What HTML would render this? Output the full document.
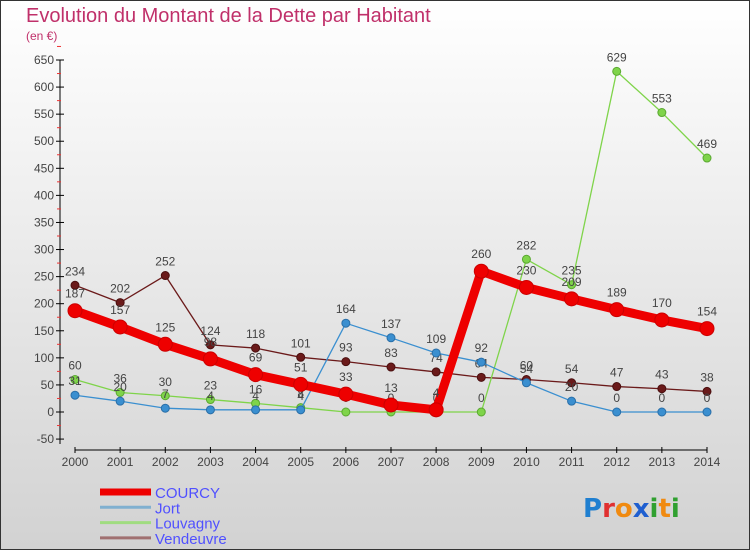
<!DOCTYPE html>
<html><head><meta charset="utf-8">
<style>
html,body{margin:0;padding:0;}
body{width:750px;height:550px;overflow:hidden;font-family:"Liberation Sans",sans-serif;}
</style></head>
<body>
<svg id="chart" width="750" height="550" viewBox="0 0 750 550" xmlns="http://www.w3.org/2000/svg" style="display:block">
<defs>
<linearGradient id="bg" x1="0" y1="0" x2="0" y2="1">
<stop offset="0" stop-color="#ffffff"/><stop offset="1" stop-color="#d2d2d2"/>
</linearGradient>
</defs>
<rect x="0.5" y="0.5" width="749" height="549" fill="url(#bg)" stroke="#333" stroke-width="1"/>
<text x="26" y="22" font-size="20" fill="#c0306a">Evolution du Montant de la Dette par Habitant</text>
<text x="26" y="40" font-size="12" fill="#c0306a">(en €)</text>
<g id="axes"></g>
<g id="series"></g>
<g id="legend"></g>
<g font-size="26" font-family="'DejaVu Sans', sans-serif" font-weight="bold">
<text x="583" y="517"><tspan fill="#1f7fd0">P</tspan><tspan fill="#e03030">r</tspan><tspan fill="#f08a10">o</tspan><tspan fill="#1f5fd0">x</tspan><tspan fill="#30a030">i</tspan><tspan fill="#f08a10">t</tspan><tspan fill="#30a030">i</tspan></text>
</g>
</svg>
<script>
const years = [2000,2001,2002,2003,2004,2005,2006,2007,2008,2009,2010,2011,2012,2013,2014];
const courcy = [187,157,125,98,69,51,33,13,4,260,230,209,189,170,154];
const jort = [31,20,7,4,4,4,164,137,109,92,54,20,0,0,0];
const louvagny = [60,36,30,23,16,8,0,0,0,0,282,235,629,553,469];
const vendeuvre = [234,202,252,124,118,101,93,83,74,64,60,54,47,43,38];
const yTicks = [-50,0,50,100,150,200,250,300,350,400,450,500,550,600,650];
const seriesNames = ["COURCY","Jort","Louvagny","Vendeuvre"];

const NS="http://www.w3.org/2000/svg";
function x(i){return 75+(707-75)*i/(years.length-1);}
function y(v){return 412-(v)*(352/650);}
function mk(tag,attrs,parent){const e=document.createElementNS(NS,tag);for(const k in attrs)e.setAttribute(k,attrs[k]);parent.appendChild(e);return e;}
const axes=document.getElementById('axes');
const ser=document.getElementById('series');
const leg=document.getElementById('legend');

// y axis
let yl=mk('line',{x1:60,y1:60,x2:60,y2:444,stroke:'#000','stroke-width':1},axes);


yTicks.forEach(t=>{
  const yy=y(t);
  mk('line',{x1:56,y1:yy,x2:64,y2:yy,stroke:'#000'},axes);
  mk('line',{x1:57,y1:y(t+25),x2:61,y2:y(t+25),stroke:'#e33'},axes);
  const tx=mk('text',{x:54,y:yy+4,'text-anchor':'end','font-size':12,fill:'#444'},axes);
  tx.textContent=t;
  
  
});
// x axis
let xl=mk('line',{x1:75,y1:450,x2:707,y2:450,stroke:'#000'},axes);


years.forEach((yr,i)=>{
  mk('line',{x1:x(i),y1:447,x2:x(i),y2:453,stroke:'#000'},axes);
  const tx=mk('text',{x:x(i),y:466,'text-anchor':'middle','font-size':12,fill:'#444'},axes);
  tx.textContent=yr;
  
  
});

function drawSeries(vals,name,color,width,r,stroke){
  const g=mk('g',{},ser);
  
  
  const pts=vals.map((v,i)=>x(i)+','+y(v)).join(' ');
  mk('polyline',{points:pts,fill:'none',stroke:color,'stroke-width':width,'stroke-linejoin':'round'},g);
  vals.forEach((v,i)=>{
    const c=mk('circle',{cx:x(i),cy:y(v),r:r,fill:color,stroke:stroke,'stroke-width':1},g);
    
    
    const t=mk('text',{x:x(i),y:y(v)-(r+6),'text-anchor':'middle','font-size':12,fill:'#444'},g);
    t.textContent=v;
    
    
  });
}
drawSeries(vendeuvre,'Vendeuvre','#6b1a1a',1.3,4,'#4a0f0f');
drawSeries(louvagny,'Louvagny','#7fd44a',1.3,4,'#5aa830');
drawSeries(jort,'Jort','#3a8fd0',1.3,4,'#2a6fa8');
drawSeries(courcy,'COURCY','#ee0000',9,7,'#cc0000');

const legColors=['#ee0000','#80b0d0','#a0dc80','#a07070'];
const legW=[7,3,3,3];
seriesNames.forEach((n,i)=>{
  const yy=492+i*15.3;
  const l=mk('line',{x1:100,y1:yy,x2:151,y2:yy,stroke:legColors[i],'stroke-width':legW[i]},leg);
  
  
  const t=mk('text',{x:155,y:yy+6,'font-size':15,fill:'#5050ff'},leg);
  t.textContent=n;
  
  
});
</script>
</body></html>
